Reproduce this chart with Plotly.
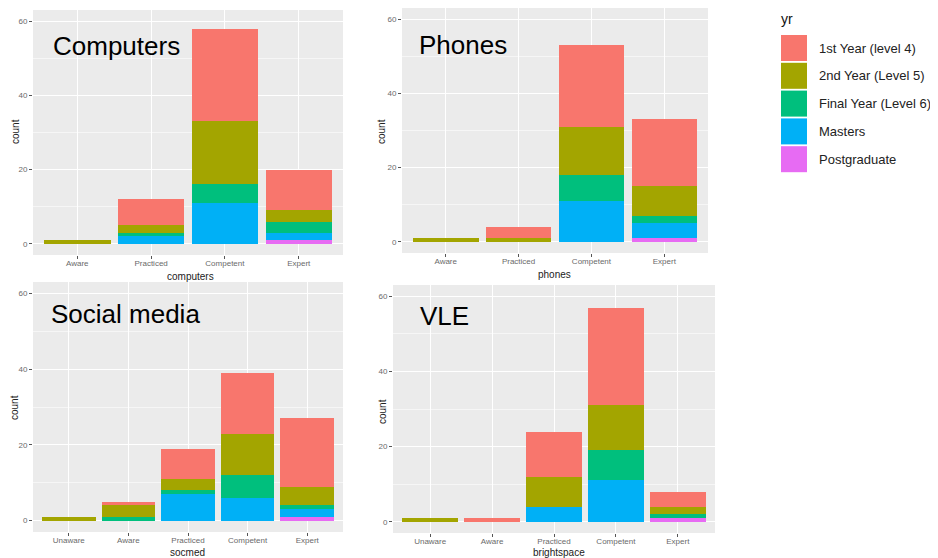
import plotly.graph_objects as go

# ---------------- data ----------------
series = ["1st Year (level 4)", "2nd Year (Level 5)", "Final Year (Level 6)", "Masters", "Postgraduate"]
colors = ["#F8766D", "#A3A500", "#00BF7D", "#00B0F6", "#E76BF3"]

computers_cats = ["Aware", "Practiced", "Competent", "Expert"]
computers_vals = {
    "1st Year (level 4)":   [0, 7, 25, 11],
    "2nd Year (Level 5)":   [1, 2, 17, 3],
    "Final Year (Level 6)": [0, 1, 5, 3],
    "Masters":              [0, 2, 11, 2],
    "Postgraduate":         [0, 0, 0, 1],
}

phones_cats = ["Aware", "Practiced", "Competent", "Expert"]
phones_vals = {
    "1st Year (level 4)":   [0, 3, 22, 18],
    "2nd Year (Level 5)":   [1, 1, 13, 8],
    "Final Year (Level 6)": [0, 0, 7, 2],
    "Masters":              [0, 0, 11, 4],
    "Postgraduate":         [0, 0, 0, 1],
}

socmed_cats = ["Unaware", "Aware", "Practiced", "Competent", "Expert"]
socmed_vals = {
    "1st Year (level 4)":   [0, 1, 8, 16, 18],
    "2nd Year (Level 5)":   [1, 3, 3, 11, 5],
    "Final Year (Level 6)": [0, 1, 1, 6, 1],
    "Masters":              [0, 0, 7, 6, 2],
    "Postgraduate":         [0, 0, 0, 0, 1],
}

vle_cats = ["Unaware", "Aware", "Practiced", "Competent", "Expert"]
vle_vals = {
    "1st Year (level 4)":   [0, 1, 12, 26, 4],
    "2nd Year (Level 5)":   [1, 0, 8, 12, 2],
    "Final Year (Level 6)": [0, 0, 0, 8, 1],
    "Masters":              [0, 0, 4, 11, 0],
    "Postgraduate":         [0, 0, 0, 0, 1],
}

y_ticks = [0, 20, 40, 60]
y_minor = [10, 30, 50]

panels = [
    # (cats, vals, x title, big label)
    (computers_cats, computers_vals, "computers", "Computers"),
    (phones_cats, phones_vals, "phones", "Phones"),
    (socmed_cats, socmed_vals, "socmed", "Social media"),
    (vle_cats, vle_vals, "brightspace", "VLE"),
]

# ---------------- layout geometry (screen pixels) ----------------
# the page body has an 8px margin, so the figure is drawn 8px in from the top-left
OFF = 8
W, H = 930, 550


def fx(px):
    return (px - OFF) / W


def fy(py):
    return 1 - (py - OFF) / H


# (left, right, top, bottom) of each panel's plotting area
boxes = [
    (33, 343, 10, 255),
    (402, 708, 8, 253),
    (33, 343, 282, 532),
    (393, 715, 285, 533),
]
label_pos = [(51, 46), (417, 45), (49, 314), (418, 316)]        # big labels (left, centre-y)
ytitle_pos = [(15, 132), (381, 132), (14, 408), (382, 412)]     # "count" centres
xtitle_pos = [(190, 276), (554, 274), (187, 552), (559, 552)]   # x-title centres

FONT = "Liberation Sans, Arial, Helvetica, sans-serif"

fig = go.Figure()
layout = dict(
    width=W, height=H,
    margin=dict(l=0, r=0, t=0, b=0),
    paper_bgcolor="white",
    plot_bgcolor="#EBEBEB",
    barmode="stack",
    bargap=0.1,
    showlegend=False,
    font=dict(family=FONT, color="#000000"),
)

annotations = []
shapes = []

for i, (cats, vals, xtitle, big) in enumerate(panels):
    idx = "" if i == 0 else str(i + 1)
    xa, ya = "x" + idx, "y" + idx
    l, r, t, b = boxes[i]
    # stack bottom-up: Postgraduate first, 1st Year last (on top)
    for name, col in reversed(list(zip(series, colors))):
        fig.add_trace(go.Bar(
            x=cats, y=vals[name], name=name,
            marker=dict(color=col, line=dict(width=0)),
            xaxis=xa, yaxis=ya, showlegend=False,
            hovertemplate="%{x}<br>" + name + ": %{y}<extra></extra>",
        ))
    n = len(cats)
    layout["xaxis" + idx] = dict(
        domain=[fx(l), fx(r)], anchor=ya,
        type="category", categoryorder="array", categoryarray=cats,
        range=[-0.6, n - 0.4],
        showgrid=True, gridcolor="white", gridwidth=1,
        ticks="outside", ticklen=3, tickcolor="#555555", tickwidth=1,
        ticklabelstandoff=-3,
        tickfont=dict(size=8, color="#6A6A6A", family=FONT),
        showline=False, zeroline=False, fixedrange=True,
    )
    layout["yaxis" + idx] = dict(
        domain=[fy(b), fy(t)], anchor=xa,
        range=[-3, 63],
        tickvals=y_ticks,
        showgrid=True, gridcolor="white", gridwidth=1.1,
        minor=dict(tickvals=y_minor, showgrid=True, gridcolor="#F6F6F6", gridwidth=0.6, ticks=""),
        ticks="outside", ticklen=3, tickcolor="#555555", tickwidth=1,
        tickfont=dict(size=8, color="#6A6A6A", family=FONT),
        showline=False, zeroline=False, fixedrange=True,
    )
    lx, ly = label_pos[i]
    annotations.append(dict(
        text=big, x=fx(lx), y=fy(ly), xref="paper", yref="paper",
        xanchor="left", yanchor="middle", showarrow=False,
        font=dict(size=26, color="black", family=FONT),
    ))
    tx, ty = ytitle_pos[i]
    annotations.append(dict(
        text="count", x=fx(tx), y=fy(ty), xref="paper", yref="paper",
        xanchor="center", yanchor="middle", showarrow=False, textangle=-90,
        font=dict(size=10, color="#222222", family=FONT),
    ))
    tx, ty = xtitle_pos[i]
    annotations.append(dict(
        text=xtitle, x=fx(tx), y=fy(ty), xref="paper", yref="paper",
        xanchor="center", yanchor="middle", showarrow=False,
        font=dict(size=10, color="#222222", family=FONT),
    ))

# ---------------- legend (ggplot style, large keys) ----------------
annotations.append(dict(
    text="yr", x=fx(779), y=fy(19), xref="paper", yref="paper",
    xanchor="left", yanchor="middle", showarrow=False,
    font=dict(size=14, color="#111111", family=FONT),
))
key_top, key_step, key_h, key_l, key_w = 35, 27.8, 26, 781, 26
for k, (name, col) in enumerate(zip(series, colors)):
    y0 = key_top + k * key_step
    shapes.append(dict(
        type="rect", xref="paper", yref="paper",
        x0=fx(key_l), x1=fx(key_l + key_w),
        y0=fy(y0 + key_h), y1=fy(y0),
        fillcolor=col, line=dict(width=0), layer="above",
    ))
    annotations.append(dict(
        text=name, x=fx(817), y=fy(y0 + key_h / 2), xref="paper", yref="paper",
        xanchor="left", yanchor="middle", showarrow=False,
        font=dict(size=13, color="#222222", family=FONT),
    ))

layout["annotations"] = annotations
layout["shapes"] = shapes
fig.update_layout(**layout)

fig.write_html("out.html")
